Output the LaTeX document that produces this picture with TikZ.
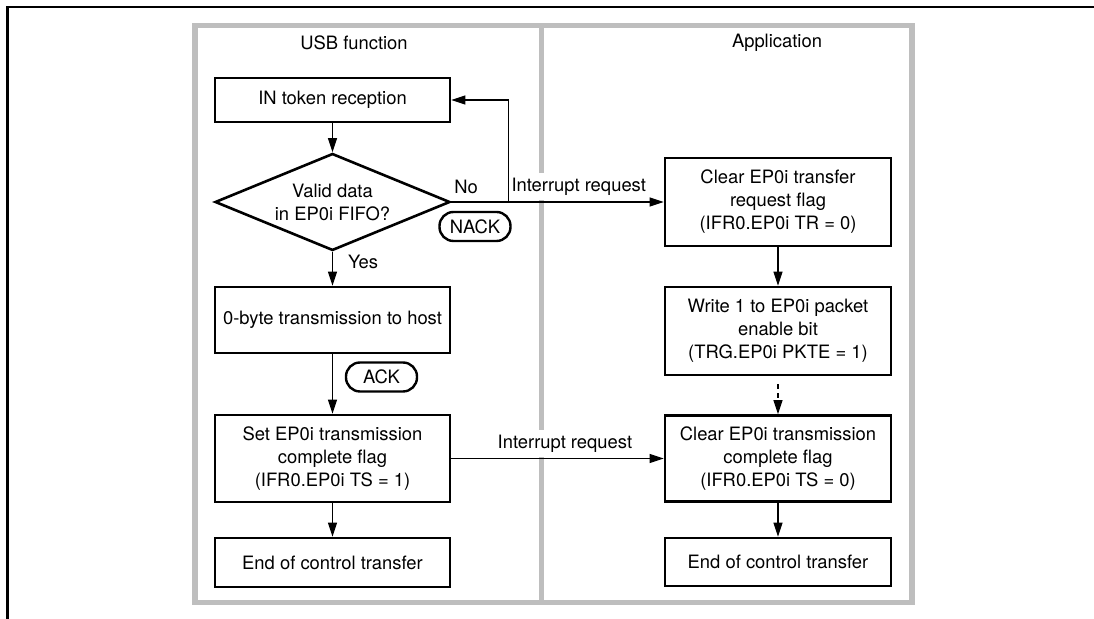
\documentclass[tikz,border=0pt]{standalone}
\usepackage{fontspec}
\setmainfont{TeX Gyre Heros}
\usetikzlibrary{arrows.meta,positioning,shapes.geometric}
\definecolor{frm}{HTML}{BEBEBE}
\tikzset{
  >={Triangle[length=7pt,width=4.5pt]},
  box/.style={draw,line width=1.3pt,align=center,inner sep=1pt,fill=white},
  lbox/.style={box,minimum width=117.5pt},
  rbox/.style={box,minimum width=113pt},
  dbox/.style={box,diamond,aspect=2.4,inner sep=0pt,minimum width=117.5pt,minimum height=48.5pt},
  tag/.style={draw,line width=1.2pt,rounded corners=7pt,minimum width=35.5pt,minimum height=14.5pt,inner sep=1pt},
  lab/.style={inner sep=1pt},
  wlab/.style={fill=white,inner xsep=1pt,inner ysep=2.4pt},
  arr/.style={->,line width=0.55pt},
  darr/.style={arr,dash pattern=on 2.5pt off 2pt},
}
\begin{document}
\begin{tikzpicture}[x=0.5pt,y=-0.5pt,every node/.style={font=\fontsize{9.2}{11.5}\selectfont}]
\useasboundingbox (0,0) rectangle (1094,619);
% page edge and lanes
\draw[line width=1.4pt] (7.5,619) -- (7.5,7) -- (1094,7);
\draw[frm,line width=2.6pt] (195,25.5) rectangle (912,602.5);
\draw[frm,line width=2.6pt] (541.5,25.5) -- (541.5,602.5);
\node[lab] (husb) at (354,43) {USB function};
\node[lab] (happ) at (777,43) {Application};
% USB function
\node[lbox,minimum height=22pt] (inb) at (332.5,100) {IN token reception};
\node[dbox] (dec) at (332.5,202) {Valid data\\in EP0i FIFO?};
\node[lbox,minimum height=33pt] (tx) at (332.5,320) {0-byte transmission to host};
\node[lbox,minimum height=43.5pt] (setf) at (332.5,458.5) {Set EP0i transmission\\complete flag\\(IFR0.EP0i TS = 1)};
\node[lbox,minimum height=24.5pt] (endl) at (332.5,562.5) {End of control transfer};
\node[tag] (nack) at (475,226.5) {NACK};
\node[tag] (ack) at (381.5,377) {ACK};
% Application
\node[rbox,minimum height=44pt] (clrtr) at (778,202) {Clear EP0i transfer\\request flag\\(IFR0.EP0i TR = 0)};
\node[rbox,minimum height=44pt] (wr) at (778,331) {Write 1 to EP0i packet\\enable bit\\(TRG.EP0i PKTE = 1)};
\node[rbox,minimum height=43pt] (clrts) at (778,458.5) {Clear EP0i transmission\\complete flag\\(IFR0.EP0i TS = 0)};
\node[rbox,minimum height=24pt] (endr) at (778,562) {End of control transfer};
\coordinate (split) at ([xshift=28.5pt]dec.east);
% flow
\draw[arr] (inb) -- (dec);
\draw[arr] (dec) -- node[lab,right,pos=0.3,xshift=6.5pt]{Yes} (tx);
\draw[arr] (tx) -- (setf);
\draw[arr] (setf) -- (endl);
\draw[arr] (dec.east) -- node[lab,above,pos=0.07,yshift=3pt]{No}
  node[wlab,above,pos=0.6,yshift=0.5pt]{Interrupt request} (clrtr.west);
\draw[arr] (split) |- (inb.east);
\draw[arr] (setf.east) -- node[wlab,above,pos=0.535,yshift=0.5pt]{Interrupt request} (clrts.west);
\draw[arr] (clrtr) -- (wr);
\draw[darr] ([yshift=-4pt]wr.south) -- (clrts.north);
\draw[arr] (clrts) -- (endr);
\end{tikzpicture}
\end{document}
